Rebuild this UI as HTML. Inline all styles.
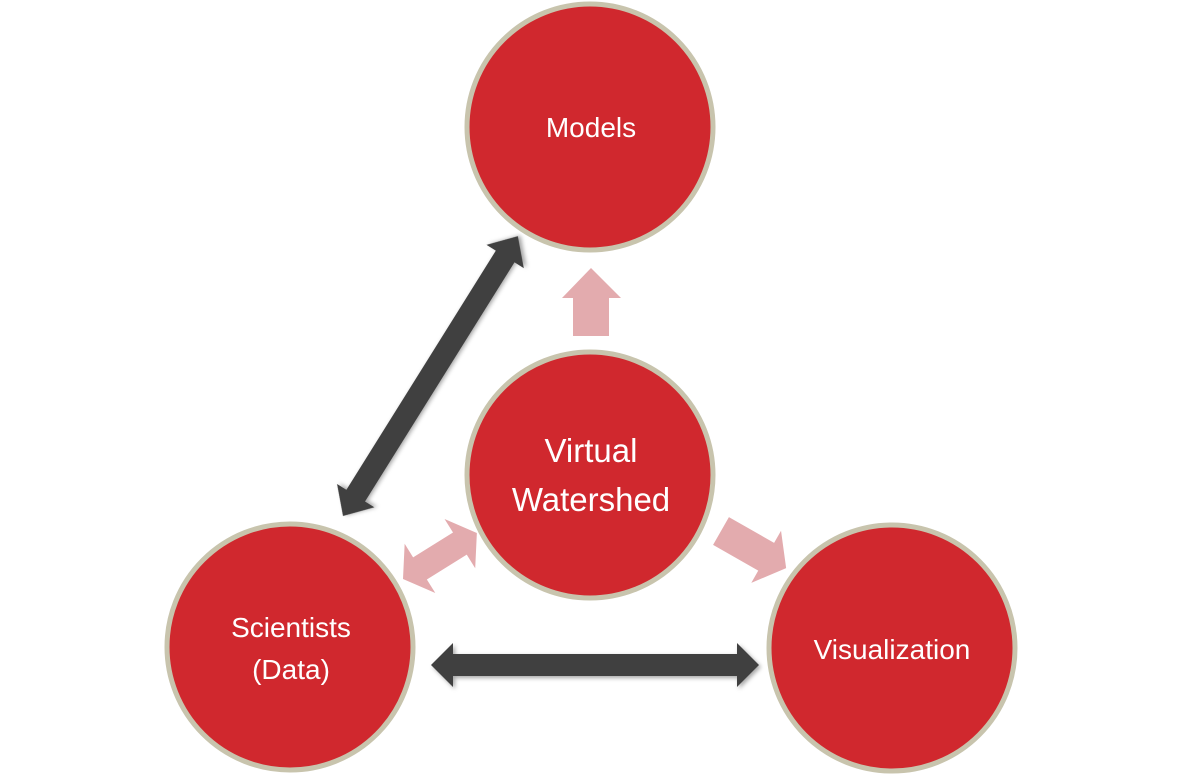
<!DOCTYPE html>
<html><head><meta charset="utf-8"><style>
html,body{margin:0;padding:0;background:#fff;}
svg{display:block;}
text{font-family:"Liberation Sans",Arial,sans-serif;fill:#fff;text-anchor:middle;}
</style></head><body>
<svg width="1183" height="776" viewBox="0 0 1183 776">
<defs>
<filter id="sh" x="-20%" y="-20%" width="140%" height="140%"><feDropShadow dx="2" dy="2" stdDeviation="2" flood-color="#000" flood-opacity="0.35"/></filter>
</defs>
<g transform="translate(343,516) rotate(-58)" filter="url(#sh)">
<path fill="#404040" d="M0,0 L24,-22 L24,-11 L306,-11 L306,-22 L330,0 L306,22 L306,11 L24,11 L24,22 Z"/>
</g>
<g transform="translate(431,665)" filter="url(#sh)">
<path fill="#404040" d="M0,0 L22,-22 L22,-11 L306,-11 L306,-22 L328,0 L306,22 L306,11 L22,11 L22,22 Z"/>
</g>
<path fill="#e3abae" d="M591,268 L621,298 L609,298 L609,336 L573,336 L573,298 L562,298 Z"/>
<g transform="translate(403,579) rotate(-31.9)">
<path fill="#e3abae" d="M0,0 L20,-29 L20,-13 L67,-13 L67,-29 L87,0 L67,29 L67,13 L20,13 L20,29 Z"/>
</g>
<g transform="translate(721,531) rotate(29.7)">
<path fill="#e3abae" d="M0,-16 L52,-16 L52,-30 L75,0 L52,30 L52,16 L0,16 Z"/>
</g>
<g fill="#d0282e" stroke="#c8c4ad" stroke-width="5">
<circle cx="590" cy="127" r="123"/>
<circle cx="590" cy="475" r="123"/>
<circle cx="290" cy="647" r="123"/>
<circle cx="892" cy="648" r="123"/>
</g>
<text x="591" y="137" font-size="28">Models</text>
<text x="591" y="462" font-size="33">Virtual</text>
<text x="591" y="511" font-size="33">Watershed</text>
<text x="291" y="637" font-size="28">Scientists</text>
<text x="291" y="679" font-size="28">(Data)</text>
<text x="892" y="659" font-size="28">Visualization</text>
</svg>
</body></html>
